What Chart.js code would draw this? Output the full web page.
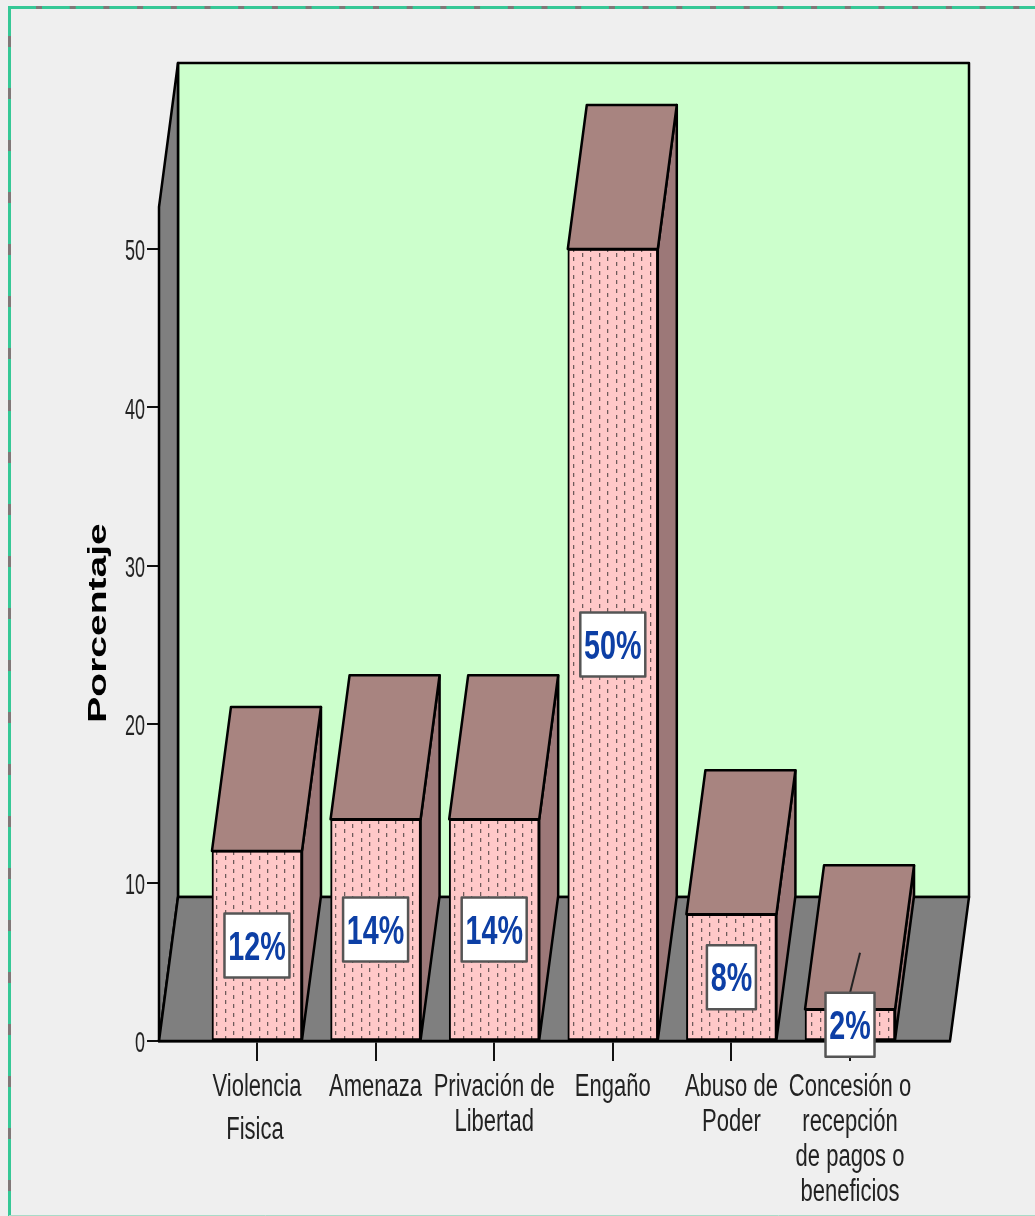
<!DOCTYPE html>
<html lang="es">
<head>
<meta charset="utf-8">
<title>Porcentaje</title>
<script src="https://cdn.jsdelivr.net/npm/chart.js@4/dist/chart.umd.min.js"></script>
<style>
    html, body { margin: 0; background: #efefef; }
    canvas { display: block; }
</style>
</head>
<body>
<canvas id="chart" width="1035" height="1216"></canvas>
<script>
// Data
const categories = [
    ['Violencia'],
    ['Amenaza'],
    ['Privación de', 'Libertad'],
    ['Engaño'],
    ['Abuso de', 'Poder'],
    ['Concesión o', 'recepción', 'de pagos o', 'beneficios']
];
const percentages = [12, 14, 14, 50, 8, 2];
const yTicks = [0, 10, 20, 30, 40, 50];
const yTitle = 'Porcentaje';
const looseLabel = 'Fisica';

// 3D look
const DEPTH_X = 19;
const DEPTH_Y = 144;
const LABEL_FONT = '"Liberation Sans", sans-serif';

function dottedPattern() {
    const tile = document.createElement('canvas');
    tile.width = 17;
    tile.height = 18;
    const c = tile.getContext('2d');
    c.fillStyle = '#ffc8c8';
    c.fillRect(0, 0, 17, 18);
    // soft edge first, then the dark core of each dash
    [[4, 1], [4, 10], [12, 5], [12, 14]].forEach(d => {
        c.fillStyle = '#d8aaaa';
        c.fillRect(d[0] + 1, d[1], 1, 4);
        c.fillStyle = '#6e5a5a';
        c.fillRect(d[0], d[1], 1, 4);
    });
    return c.createPattern(tile, 'repeat');
}

function poly(ctx, pts, fill) {
    ctx.beginPath();
    pts.forEach((p, i) => i ? ctx.lineTo(p[0], p[1]) : ctx.moveTo(p[0], p[1]));
    ctx.closePath();
    ctx.fillStyle = fill;
    ctx.fill();
    ctx.stroke();
}

// the picture's text is squeezed sideways, no narrow font is installed
function squeezedText(ctx, text, x, y, sx) {
    ctx.save();
    ctx.translate(x, y);
    ctx.scale(sx, 1);
    ctx.fillText(text, 0, 0);
    ctx.restore();
}

const framePlugin = {
    id: 'frame',
    beforeDraw(chart) {
        const ctx = chart.ctx;
        ctx.save();
        ctx.fillStyle = '#efefef';
        ctx.fillRect(0, 0, chart.width, chart.height);
        // screenshot border
        ctx.lineWidth = 3;
        ctx.strokeStyle = '#36c896';
        ctx.beginPath();
        ctx.moveTo(1035, 7.5);
        ctx.lineTo(9.5, 7.5);
        ctx.lineTo(9.5, 1216);
        ctx.stroke();
        ctx.strokeStyle = '#807878';
        ctx.setLineDash([6, 27.7]);
        ctx.beginPath();
        ctx.moveTo(36, 7.5);
        ctx.lineTo(1035, 7.5);
        ctx.stroke();
        ctx.setLineDash([11, 41]);
        ctx.beginPath();
        ctx.moveTo(9.5, 36);
        ctx.lineTo(9.5, 1216);
        ctx.stroke();
        ctx.setLineDash([]);
        ctx.lineWidth = 1;
        ctx.strokeStyle = '#a8dcc8';
        ctx.beginPath();
        ctx.moveTo(9, 1215.5);
        ctx.lineTo(1035, 1215.5);
        ctx.stroke();
        ctx.restore();
    },
    beforeDatasetsDraw(chart) {
        const { ctx, chartArea: a } = chart;
        const dx = DEPTH_X, dy = DEPTH_Y;
        ctx.save();
        ctx.strokeStyle = '#000';
        ctx.lineWidth = 2.5;
        ctx.lineJoin = 'round';
        // back wall, left wall, floor
        poly(ctx, [[a.left + dx, a.top - dy], [a.right + dx, a.top - dy], [a.right + dx, a.bottom - dy], [a.left + dx, a.bottom - dy]], '#ccffcc');
        poly(ctx, [[a.left, a.top], [a.left + dx, a.top - dy], [a.left + dx, a.bottom - dy], [a.left, a.bottom]], '#7f7f7f');
        poly(ctx, [[a.left, a.bottom], [a.left + dx, a.bottom - dy], [a.right + dx, a.bottom - dy], [a.right, a.bottom]], '#7f7f7f');
        ctx.restore();
    },
    afterDatasetsDraw(chart) {
        const ctx = chart.ctx;
        const dx = DEPTH_X, dy = DEPTH_Y;
        const bars = chart.getDatasetMeta(0).data;
        const xScale = chart.scales.x, yScale = chart.scales.y;
        ctx.save();
        ctx.strokeStyle = '#000';
        ctx.lineWidth = 2.5;
        ctx.lineJoin = 'round';
        // bar tops and sides
        bars.forEach(bar => {
            const l = bar.x - bar.width / 2, r = bar.x + bar.width / 2;
            poly(ctx, [[r, bar.base], [r, bar.y], [r + dx, bar.y - dy], [r + dx, bar.base - dy]], '#9c7878');
            poly(ctx, [[l, bar.y], [l + dx, bar.y - dy], [r + dx, bar.y - dy], [r, bar.y]], '#a88480');
        });

        // axis labels
        ctx.textAlign = 'center';
        ctx.textBaseline = 'middle';
        ctx.fillStyle = '#222';
        ctx.font = '31px ' + LABEL_FONT;
        xScale.ticks.forEach((tick, i) => {
            const x = xScale.getPixelForTick(i);
            [].concat(tick.label).forEach((line, n) => {
                squeezedText(ctx, line, x, xScale.top + 46 + 35 * n, 0.71);
            });
        });
        squeezedText(ctx, looseLabel, bars[0].x - 2, xScale.top + 89, 0.71);
        ctx.textAlign = 'right';
        ctx.font = '30px ' + LABEL_FONT;
        yScale.ticks.forEach((tick, i) => {
            squeezedText(ctx, String(tick.value), yScale.right - 14, yScale.getPixelForTick(i) + 3, 0.6);
        });

        // axis title
        ctx.save();
        ctx.translate(99, (yScale.top + yScale.bottom) / 2 - 1);
        ctx.rotate(-Math.PI / 2);
        ctx.textAlign = 'center';
        ctx.fillStyle = '#000';
        ctx.font = 'bold 26px ' + LABEL_FONT;
        squeezedText(ctx, yTitle, 0, 0, 1.5);
        ctx.restore();

        // value labels in the middle of each bar
        ctx.font = 'bold 41px ' + LABEL_FONT;
        ctx.textAlign = 'center';
        bars.forEach((bar, i) => {
            const text = percentages[i] + '%';
            const w = Math.round(ctx.measureText(text).width * 0.7) + 8;
            const y = (bar.y + bar.base) / 2;
            if (percentages[i] < 4) {
                ctx.strokeStyle = '#222';
                ctx.lineWidth = 2;
                ctx.beginPath();
                ctx.moveTo(bar.x + 10, y - 72);
                ctx.lineTo(bar.x, y - 32);
                ctx.stroke();
            }
            ctx.fillStyle = '#fff';
            ctx.strokeStyle = '#555';
            ctx.lineWidth = 2.5;
            ctx.fillRect(bar.x - w / 2, y - 32, w, 64);
            ctx.strokeRect(bar.x - w / 2, y - 32, w, 64);
            ctx.fillStyle = '#0d3fa5';
            squeezedText(ctx, text, bar.x, y + 3, 0.7);
        });
        ctx.restore();
    }
};

new Chart(document.getElementById('chart'), {
    type: 'bar',
    data: {
        datasets: [{
            data: percentages.map((v, i) => ({ x: i, y: v })),
            backgroundColor: dottedPattern(),
            borderColor: '#000',
            borderWidth: 2,
            borderSkipped: false,
            barThickness: 90
        }]
    },
    options: {
        responsive: false,
        animation: false,
        layout: { padding: { top: 207, right: 85 } },
        plugins: { legend: { display: false }, tooltip: { enabled: false } },
        scales: {
            x: {
                type: 'linear',
                offset: false,
                min: -0.826,
                max: 5.843,
                afterBuildTicks: scale => { scale.ticks = categories.map((_, i) => ({ value: i })); },
                afterFit: scale => { scale.height = 175; },
                grid: { offset: false, drawOnChartArea: false, color: '#111', lineWidth: 2, tickLength: 20 },
                border: { color: '#000', width: 2.5 },
                // labels are drawn squeezed by the plugin above
                ticks: { display: false, autoSkip: false, callback: value => categories[value] }
            },
            y: {
                min: 0,
                max: 52.65,
                afterBuildTicks: scale => { scale.ticks = yTicks.map(v => ({ value: v })); },
                afterFit: scale => { scale.width = 159; },
                grid: { drawOnChartArea: false, color: '#111', lineWidth: 2, tickLength: 12 },
                border: { color: '#000', width: 2.5 },
                ticks: { display: false }
            }
        }
    },
    plugins: [framePlugin]
});
</script>
</body>
</html>
